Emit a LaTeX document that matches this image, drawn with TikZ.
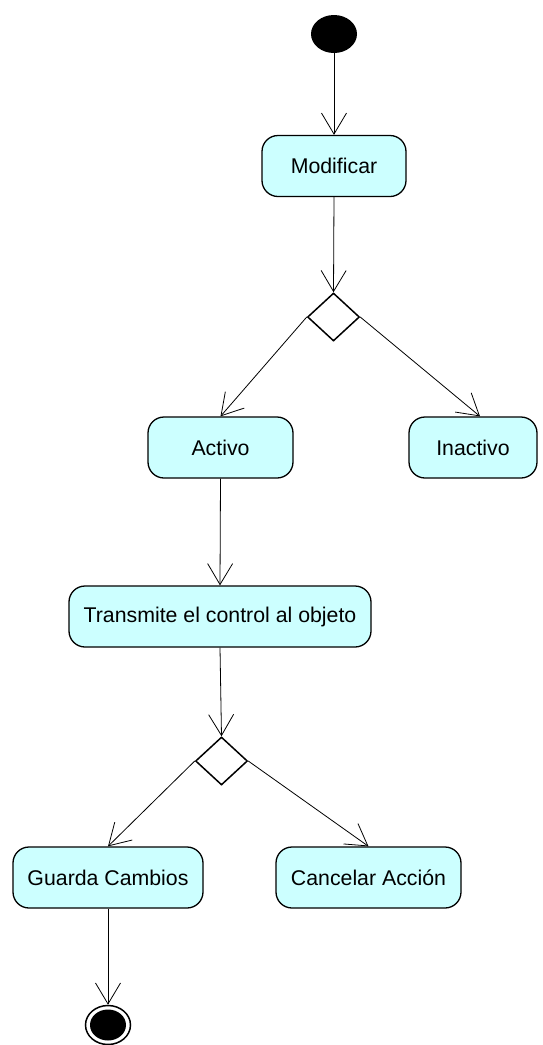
\documentclass[tikz,border=0pt]{standalone}
\usepackage{fontspec}
\setmainfont{Liberation Sans}
\usetikzlibrary{shapes.geometric,arrows.meta}
\definecolor{actfill}{HTML}{CCFFFF}
\begin{document}
\begin{tikzpicture}[x=1pt,y=-1pt,
  act/.style={draw=black,line width=1.3pt,fill=actfill,rounded corners=16pt,
    rectangle,inner sep=0pt,minimum height=61pt,font=\fontsize{21.3}{25}\selectfont},
  dec/.style={draw=black,line width=1.5pt,fill=white,diamond,inner sep=0pt,
    minimum width=52pt,minimum height=48pt},
  flow/.style={draw=black,line width=0.8pt,-{Straight Barb[length=21pt,width=25pt,line width=0.8pt]}}]
\useasboundingbox (0,0) rectangle (543,1045);
\node[ellipse,fill=black,minimum width=46pt,minimum height=38pt,inner sep=0pt] (start) at (334,34) {};
\node[act,minimum width=144pt] (mod) at (334,166) {Modificar};
\node[dec] (d1) at (333.5,317) {};
\node[act,minimum width=145pt] (activo) at (220.5,447.5) {Activo};
\node[act,minimum width=128pt] (inactivo) at (473,447.5) {Inactivo};
\node[act,minimum width=302pt] (trans) at (220,616.5) {Transmite el control al objeto};
\node[dec] (d2) at (221.5,761) {};
\node[act,minimum width=190pt] (guarda) at (108,877.5) {Guarda Cambios};
\node[act,minimum width=185pt] (cancel) at (368.5,877.5) {Cancelar Acción};
\node[ellipse,draw=black,line width=1.5pt,fill=white,minimum width=45pt,minimum height=39pt,inner sep=0pt] (fin) at (108,1025) {};
\node[ellipse,fill=black,minimum width=36pt,minimum height=31pt,inner sep=0pt] (finin) at (108,1025) {};
\draw[flow] (start.south) -- (mod.north);
\draw[flow] (mod.south) -- (d1.north);
\draw[flow] (d1.west) -- (activo.north);
\draw[flow] (d1.east) -- ([xshift=7pt]inactivo.north);
\draw[flow] (activo.south) -- (trans.north);
\draw[flow] (trans.south) -- (d2.north);
\draw[flow] (d2.west) -- (guarda.north);
\draw[flow] (d2.east) -- (cancel.north);
\draw[flow] (guarda.south) -- (fin.north);
\end{tikzpicture}
\end{document}
